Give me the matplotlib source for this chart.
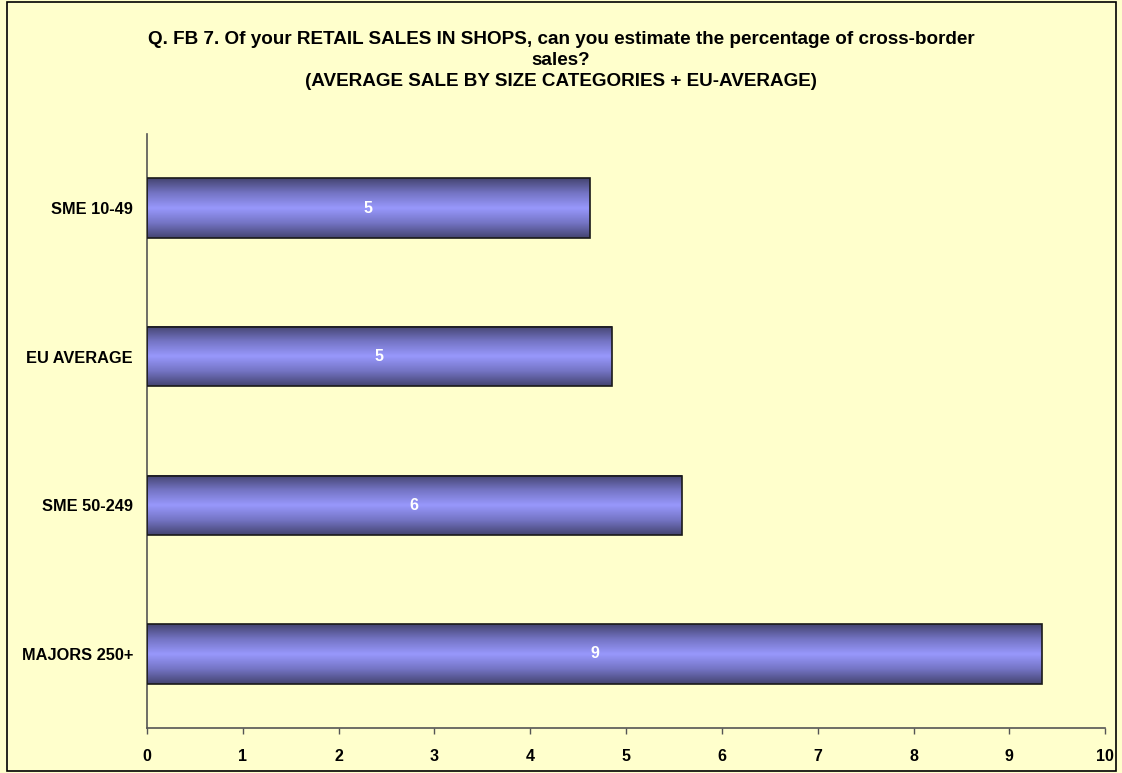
import numpy as np
import matplotlib.pyplot as plt
from matplotlib.colors import LinearSegmentedColormap
from matplotlib.patches import Rectangle

plt.rcParams['font.family'] = ['Liberation Sans', 'DejaVu Sans']
plt.rcParams['font.weight'] = 'bold'

categories = ['SME 10-49', 'EU AVERAGE', 'SME 50-249', 'MAJORS 250+']
values = [4.62, 4.85, 5.58, 9.34]
xticks = [0, 1, 2, 3, 4, 5, 6, 7, 8, 9, 10]
title = ("Q. FB 7. Of your RETAIL SALES IN SHOPS, can you estimate the percentage of cross-border\n"
         "sales?\n(AVERAGE SALE BY SIZE CATEGORIES + EU-AVERAGE)")

bg = '#FFFFCC'
grad = LinearSegmentedColormap.from_list('bar', ['#444470', '#7474c4', '#9898FC', '#7474c4', '#444470'])

fig = plt.figure(figsize=(11.22, 7.73), dpi=100, facecolor=bg)
ax = fig.add_axes([0.131, 0.058, 0.854, 0.769])
ax.set_facecolor(bg)

ypos = np.arange(len(categories))[::-1]
h = 0.4
g = np.linspace(0, 1, 256).reshape(-1, 1)
for y, v in zip(ypos, values):
    ax.imshow(g, cmap=grad, aspect='auto', extent=(0, v, y - h / 2, y + h / 2),
              interpolation='bilinear', zorder=2)
    ax.add_patch(Rectangle((0, y - h / 2), v, h, fill=False, edgecolor='#1a1a1a', lw=1.2, zorder=3))
    ax.text(v / 2, y, f'{round(v)}', color='white', ha='center', va='center',
            fontsize=11.5, fontweight='bold', zorder=4)

ax.set_xlim(0, 10)
ax.set_ylim(-0.5, 3.5)
ax.set_xticks(xticks)
ax.set_xticklabels([str(t) for t in xticks], fontsize=11.5, fontweight='bold')
ax.set_yticks(ypos)
ax.set_yticklabels(categories, fontsize=11.8, fontweight='bold')
ax.tick_params(axis='x', length=4, width=1, color='#555555', pad=11, direction='out')
ax.tick_params(axis='y', length=0, pad=10)
for s in ['top', 'right']:
    ax.spines[s].set_visible(False)
for s in ['left', 'bottom']:
    ax.spines[s].set_color('#555555')
    ax.spines[s].set_linewidth(1.2)

fig.text(0.5, 0.96, title, ha='center', va='top', fontsize=13.6, fontweight='bold', linespacing=1.3)

fig.patches.append(Rectangle((0.006, 0.003), 0.989, 0.994, transform=fig.transFigure,
                             fill=False, edgecolor='black', lw=1.2))

fig.savefig('out.png', dpi=100, facecolor=bg)
